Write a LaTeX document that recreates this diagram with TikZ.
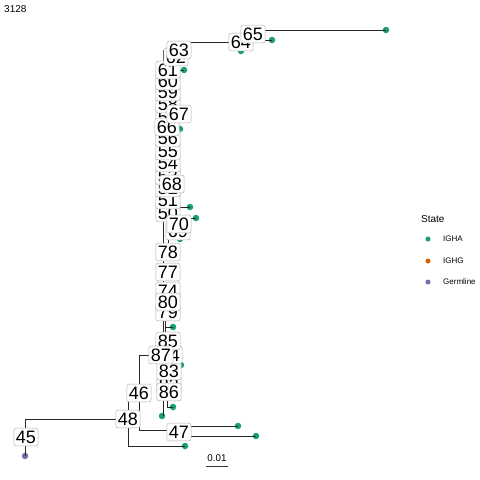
\documentclass[tikz,border=0pt]{standalone}
\usepackage{fontspec}
\setmainfont{Liberation Sans}
\definecolor{tipgreen}{HTML}{1B9E77}
\definecolor{tiporange}{HTML}{D95F02}
\definecolor{tippurple}{HTML}{7570B3}
\begin{document}
\begin{tikzpicture}[x=1pt,y=-1pt,
  tree/.style={line width=0.95pt,black!85},
  nlab/.style={draw=black!30,line width=0.5pt,fill=white,rounded corners=2pt,
     font=\fontsize{18}{18}\selectfont,text height=12.9pt,text depth=0pt,
     inner xsep=2pt,inner ysep=2.4pt},
  tip/.style={circle,fill=tipgreen,inner sep=0pt,minimum size=6.5pt},
  germ/.style={circle,fill=tippurple,inner sep=0pt,minimum size=6.5pt},
  legdot/.style={circle,inner sep=0pt,minimum size=5pt},
  legtxt/.style={anchor=west,inner sep=0pt,font=\fontsize{8}{8}\selectfont}]
\useasboundingbox[fill=white] (0,0) rectangle (480,480);
% ---------- internal junction coordinates ----------
\coordinate (r) at (25,419);
\coordinate (j48t) at (128,393);
\coordinate (j48b) at (128,446);
\coordinate (j46t) at (139,355);
\coordinate (j46b) at (139,430);
\coordinate (j47a) at (179,426);
\coordinate (j47b) at (179,436);
\coordinate (s1) at (163,50);
\coordinate (s2) at (163,416);
\coordinate (d1) at (165,310);
\coordinate (d2) at (165,341);
\coordinate (u1) at (168,231);
\coordinate (u2) at (168,252);
\coordinate (c63) at (179,42);
\coordinate (c64a) at (241,34);
\coordinate (c64b) at (241,51);
\coordinate (c65a) at (253,30);
\coordinate (c65b) at (253,40);
\coordinate (b86) at (167,400);
\coordinate (b86b) at (167,407);
% ---------- tips ----------
\node[germ] (tg) at (25,456) {};
\node[tip] (t1) at (386,30) {};
\node[tip] (t2) at (272,40) {};
\node[tip] (t3) at (241,51) {};
\node[tip] (t4) at (184,70) {};
\node[tip] (t5) at (180,129) {};
\node[tip] (t6) at (190,207) {};
\node[tip] (t7) at (196,218) {};
\node[tip] (t8) at (180,239) {};
\node[tip] (t9) at (173,327) {};
\node[tip] (t10) at (181,365) {};
\node[tip] (t11) at (173,407) {};
\node[tip] (t12) at (162,416) {};
\node[tip] (t13) at (185,446) {};
\node[tip] (t14) at (238,426) {};
\node[tip] (t15) at (256,436) {};
% ---------- branches ----------
\draw[tree] (tg.center) -- (r) -- (128,419);
\draw[tree] (j48t) -- (j48b) -- (t13.center);
\draw[tree] (j48t) -- (139,393);
\draw[tree] (j46t) -- (j46b) -- (179,430);
\draw[tree] (j46t) -- (161,355);
\draw[tree] (j47a) -- (t14.center);
\draw[tree] (j47b) -- (t15.center);
\draw[tree] (s1) -- (s2);
\draw[tree] (d1) -- (d2);
\draw[tree] (u1) -- (u2);
\draw[tree] (c63) -- (c64a |- c63);
\draw[tree] (c64a) -- (c64b);
\draw[tree] (c64a) -- (253,34);
\draw[tree] (c65a) -- (c65b);
\draw[tree] (c65a) -- (t1.center);
\draw[tree] (c65b) -- (t2.center);
\draw[tree] (176,70) -- (t4.center);
\draw[tree] (170,129) -- (t5.center);
\draw[tree] (178,207) -- (t6.center);
\draw[tree] (182,218) -- (t7.center);
\draw[tree] (178,231) -- (t8.center);
\draw[tree] (165,327) -- (t9.center);
\draw[tree] (169,365) -- (t10.center);
\draw[tree] (b86) -- (b86b) -- (t11.center);
% ---------- node labels (increasing number, later on top) ----------
\node[nlab] (n45) at (26,437) {45};
\node[nlab] (n46) at (139,393) {46};
\node[nlab] (n47) at (179,432) {47};
\node[nlab] (n48) at (128,419) {48};
\node[nlab] (n50) at (168,213) {50};
\node[nlab] (n51) at (168,200) {51};
\node[nlab] (n52) at (168,188) {52};
\node[nlab] (n53) at (168,176) {53};
\node[nlab] (n54) at (168,163) {54};
\node[nlab] (n55) at (168,151) {55};
\node[nlab] (n56) at (168,138) {56};
\node[nlab] (n57) at (168,117) {57};
\node[nlab] (n58) at (168,104) {58};
\node[nlab] (n59) at (168,92) {59};
\node[nlab] (n60) at (168,81) {60};
\node[nlab] (n61) at (168,70) {61};
\node[nlab] (n62) at (176,57) {62};
\node[nlab] (n63) at (179,50) {63};
\node[nlab] (n64) at (241,42) {64};
\node[nlab] (n65) at (253,34) {65};
\node[nlab] (n66) at (167,127) {66};
\node[nlab] (n67) at (179,114) {67};
\node[nlab] (n68) at (172,184) {68};
\node[nlab] (n69) at (178,231) {69};
\node[nlab] (n70) at (179,224) {70};
\node[nlab] (n74) at (168,291) {74};
\node[nlab] (n77) at (168,272) {77};
\node[nlab] (n78) at (168,252) {78};
\node[nlab] (n79) at (168,312) {79};
\node[nlab] (n80) at (168,302) {80};
\node[nlab] (n82) at (169,385) {82};
\node[nlab] (n83) at (169,371) {83};
\node[nlab] (n84) at (170,355) {84};
\node[nlab] (n85) at (168,341) {85};
\node[nlab] (n86) at (169,392) {86};
\node[nlab] (n87) at (161,355) {87};
% ---------- title, scale bar ----------
\node[anchor=west,inner sep=0pt,font=\fontsize{10}{10}\selectfont] (title) at (4,9) {3128};
\coordinate (sb1) at (206,466);
\coordinate (sb2) at (228,466);
\draw[line width=0.8pt,black!80] (sb1) -- (sb2);
\node[inner sep=0pt,font=\fontsize{9.8}{10}\selectfont] (sbt) at (217,458) {0.01};
% ---------- legend ----------
\node[anchor=west,inner sep=0pt,font=\fontsize{10}{10}\selectfont] (legt) at (421,219) {State};
\node[legdot,fill=tipgreen] (l1) at (428,239) {};
\node[legdot,fill=tiporange] (l2) at (428,261) {};
\node[legdot,fill=tippurple] (l3) at (428,282) {};
\node[legtxt] (lt1) at (443,239) {IGHA};
\node[legtxt] (lt2) at (443,261) {IGHG};
\node[legtxt] (lt3) at (443,282) {Germline};
\end{tikzpicture}
\end{document}
